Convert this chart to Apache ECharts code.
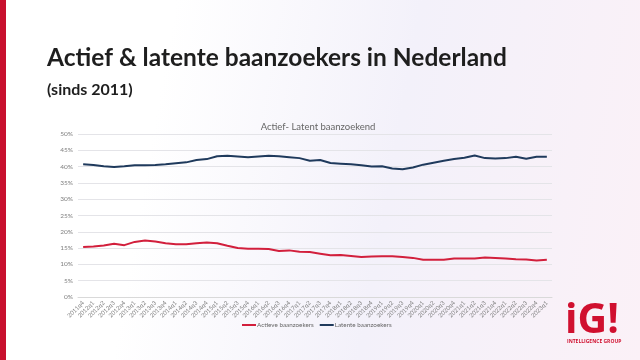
<!DOCTYPE html>
<html>
<head>
<meta charset="utf-8">
<script src="https://cdn.jsdelivr.net/npm/echarts@6/dist/echarts.min.js"></script>
<style>
html,body{margin:0;padding:0;}
body{width:640px;height:360px;background:linear-gradient(100deg,#ffffff 0%,#ffffff 25%,#f3f1fa 60%,#fbf1f7 100%);}
#c{width:640px;height:360px;}
</style>
</head>
<body>
<div id="c"></div>
<script>
const categories = [
 '2011q4',
 '2012q1','2012q2','2012q3','2012q4',
 '2013q1','2013q2','2013q3','2013q4',
 '2014q1','2014q2','2014q3','2014q4',
 '2015q1','2015q2','2015q3','2015q4',
 '2016q1','2016q2','2016q3','2016q4',
 '2017q1','2017q2','2017q3','2017q4',
 '2018q1','2018q2','2018q3','2018q4',
 '2019q1','2019q2','2019q3','2019q4',
 '2020q1','2020q2','2020q3','2020q4',
 '2021q1','2021q2','2021q3','2021q4',
 '2022q1','2022q2','2022q3','2022q4',
 '2023q1'
];
const actief = [15.3,15.5,15.8,16.3,15.9,16.9,17.3,17.0,16.5,16.2,16.2,16.5,16.7,16.5,15.7,15.0,14.8,14.8,14.7,14.1,14.3,13.9,13.8,13.3,12.8,12.9,12.6,12.3,12.4,12.5,12.5,12.3,12.0,11.4,11.4,11.4,11.8,11.8,11.8,12.1,12.0,11.8,11.6,11.5,11.2,11.4];
const latent = [40.7,40.5,40.1,39.9,40.1,40.4,40.4,40.5,40.7,41.0,41.3,42.0,42.3,43.2,43.3,43.1,42.9,43.1,43.3,43.2,42.9,42.6,41.8,42.0,41.1,40.9,40.7,40.4,40.0,40.1,39.4,39.2,39.7,40.6,41.2,41.8,42.3,42.7,43.4,42.6,42.5,42.6,43.0,42.4,43.0,43.0];
const yTicks = [0,5,10,15,20,25,30,35,40,45,50];

const chart = echarts.init(document.getElementById('c'), null, {renderer:'canvas'});
chart.setOption({
  backgroundColor: 'transparent',
  animation: false,
  title: [
    {text:'Actief & latente baanzoekers in Nederland', left:42, top:41,
     textStyle:{fontFamily:'Lato', fontWeight:'bold', fontSize:24.5, color:'#1e1e1e'}},
    {text:'(sinds 2011)', left:42, top:77,
     textStyle:{fontFamily:'Lato', fontWeight:'bold', fontSize:16, color:'#1e1e1e'}},
    {text:'Actief- Latent baanzoekend', left:313, textAlign:'center', top:117,
     textStyle:{fontFamily:'Lato', fontWeight:'normal', fontSize:9.5, color:'#666666'}}
  ],
  graphic: [
    {type:'rect', left:0, top:0, shape:{width:6, height:360}, style:{fill:'#c8102e'}},
    {type:'text', left:565, top:301, style:{text:'iG!', fill:'#d0102f', font:'bold 41px "Open Sans"'}},
    {type:'text', left:567, top:339, style:{text:'INTELLIGENCE GROUP', fill:'#d0102f', font:'bold 5px "Open Sans"'}}
  ],
  grid: {left:78, right:88, top:134, bottom:63, containLabel:false},
  legend: {
    bottom: 27, left: 237,
    itemWidth: 14, itemHeight: 2, itemGap: 6,
    icon: 'rect',
    textStyle:{fontFamily:'Lato', fontSize:6.3, color:'#666666', padding:[0,0,0,-4]},
    data:['Actieve baanzoekers','Latente baanzoekers']
  },
  xAxis: {
    type:'category', data:categories, boundaryGap:true,
    axisLine:{show:true, lineStyle:{color:'#d9d9d9'}},
    axisTick:{show:false},
    axisLabel:{interval:0, rotate:45, fontSize:6, color:'#7f7f7f', fontFamily:'Lato', margin:5}
  },
  yAxis: {
    type:'value', min:yTicks[0], max:yTicks[yTicks.length-1], interval:5,
    axisLine:{show:false}, axisTick:{show:false},
    axisLabel:{formatter: v => v + '%', fontSize:6.5, color:'#7f7f7f', fontFamily:'Lato', margin:5},
    splitLine:{lineStyle:{color:'#e4e4e8', width:1}}
  },
  series: [
    {name:'Actieve baanzoekers', type:'line', data:actief, showSymbol:false, symbol:'none',
     lineStyle:{color:'#d21f3c', width:2}, itemStyle:{color:'#d21f3c'}},
    {name:'Latente baanzoekers', type:'line', data:latent, showSymbol:false, symbol:'none',
     lineStyle:{color:'#1f3a5c', width:2}, itemStyle:{color:'#1f3a5c'}}
  ]
});
</script>
</body>
</html>
